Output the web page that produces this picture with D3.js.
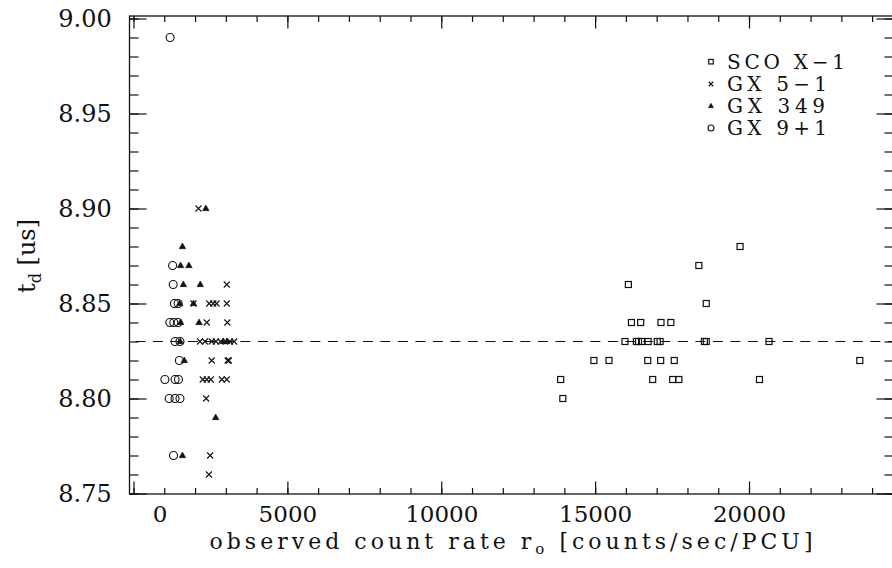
<!DOCTYPE html>
<html><head><meta charset="utf-8">
<script src="https://cdn.jsdelivr.net/npm/d3@7"></script>
<style>
body{margin:0;background:#fff}
svg{display:block}
text{font-family:"DejaVu Serif",serif;fill:#111}
</style></head>
<body><svg id="c" width="892" height="568"></svg>
<script>
// ---- data (count rate [counts/sec/PCU], t_d [us]) ----
const scoX1 = [
  [19710,8.88],[18370,8.87],[16080,8.86],[18610,8.85],
  [16180,8.84],[16480,8.84],[17140,8.84],[17460,8.84],
  [15970,8.83],[16340,8.83],[16410,8.83],[16510,8.83],[16720,8.83],[17020,8.83],[17110,8.83],[18550,8.83],[18610,8.83],[20650,8.83],
  [14960,8.82],[15450,8.82],[16710,8.82],[17130,8.82],[17570,8.82],[23600,8.82],
  [13880,8.81],[16870,8.81],[17520,8.81],[17720,8.81],[20340,8.81],
  [13950,8.80]
];
const gx51 = [
  [2110,8.90],[3030,8.86],
  [1950,8.85],[2460,8.85],[2590,8.85],[2700,8.85],[3030,8.85],
  [2380,8.84],[3050,8.84],
  [2160,8.83],[2320,8.83],[2540,8.83],[2680,8.83],[2830,8.83],[3140,8.83],[3270,8.83],
  [2540,8.82],[3060,8.82],[3100,8.82],
  [2250,8.81],[2380,8.81],[2510,8.81],[2870,8.81],[3030,8.81],
  [2360,8.80],[2490,8.77],[2450,8.76]
];
const gx349 = [
  [2350,8.90],[1590,8.88],[1530,8.87],[1800,8.87],
  [1620,8.86],[2170,8.86],[1500,8.85],[1950,8.85],
  [1530,8.84],[2130,8.84],[1520,8.83],[2920,8.83],[3030,8.83],
  [1650,8.82],[2670,8.79],[1590,8.77]
];
const gx91 = [
  [1190,8.99],[1270,8.87],[1290,8.86],[1330,8.85],[1450,8.85],
  [1180,8.84],[1310,8.84],[1450,8.84],[1350,8.83],[1510,8.83],
  [1490,8.82],[1020,8.81],[1350,8.81],[1460,8.81],
  [1160,8.80],[1350,8.80],[1510,8.80],[1300,8.77]
];
const legendNames = ["SCO X\u22121","GX 5\u22121","GX 349","GX 9+1"];
const xMajorTicks = [0,5000,10000,15000,20000];
const xMinorTicks = d3.range(0,25000,1000);
const yMajorTicks = [8.75,8.80,8.85,8.90,8.95,9.00];
const yMinorTicks = d3.range(8.75,9.0001,0.01).map(v=>+v.toFixed(2));
const refLine = 8.83;
const xTitle = "observed count rate r";
const xTitleSub = "o";
const xTitleTail = " [counts/sec/PCU]";

// ---- layout ----
const L=129.5, R=893.5, T=16, B=494;
const svg = d3.select("#c");
const x = d3.scaleLinear().domain([-130,24695]).range([L,R]);
const y = d3.scaleLinear().domain([8.75,9.0]).range([493.5,18.5]);
const ink="#111";

// frame
svg.append("rect").attr("x",L).attr("y",T).attr("width",R-L).attr("height",B-T)
  .attr("fill","none").attr("stroke",ink).attr("stroke-width",1.3);

function styleAxis(g){ g.select(".domain").remove(); g.selectAll("line").attr("stroke",ink).attr("stroke-width",1.2); }

// bottom
svg.append("g").attr("transform",`translate(0,${B})`)
  .call(d3.axisBottom(x).tickValues(xMinorTicks).tickSize(-6).tickFormat("")).call(styleAxis);
const bx = svg.append("g").attr("transform",`translate(0,${B})`)
  .call(d3.axisBottom(x).tickValues(xMajorTicks).tickSize(-12.5).tickPadding(11.5).tickFormat(d3.format("d"))).call(styleAxis);
bx.selectAll("text").attr("font-size",23).attr("font-family","DejaVu Serif").attr("fill",ink);
bx.selectAll(".tick").filter(d=>d===0).select("text").attr("x",26);
// top
svg.append("g").attr("transform",`translate(0,${T})`)
  .call(d3.axisTop(x).tickValues(xMinorTicks).tickSize(-6).tickFormat("")).call(styleAxis);
svg.append("g").attr("transform",`translate(0,${T})`)
  .call(d3.axisTop(x).tickValues(xMajorTicks).tickSize(-12.5).tickFormat("")).call(styleAxis);
// left
svg.append("g").attr("transform",`translate(${L},0)`)
  .call(d3.axisLeft(y).tickValues(yMinorTicks).tickSize(-9).tickFormat("")).call(styleAxis);
const ly = svg.append("g").attr("transform",`translate(${L},0)`)
  .call(d3.axisLeft(y).tickValues(yMajorTicks).tickSize(-17).tickPadding(17.8).tickFormat(d3.format(".2f"))).call(styleAxis);
ly.selectAll("text").attr("font-size",24).attr("font-family","DejaVu Serif").attr("fill",ink);
// right
svg.append("g").attr("transform",`translate(${R},0)`)
  .call(d3.axisRight(y).tickValues(yMinorTicks).tickSize(-9).tickFormat("")).call(styleAxis);
svg.append("g").attr("transform",`translate(${R},0)`)
  .call(d3.axisRight(y).tickValues(yMajorTicks).tickSize(-17).tickFormat("")).call(styleAxis);

// reference dashed line
svg.append("line").attr("x1",L).attr("x2",R).attr("y1",y(refLine)).attr("y2",y(refLine))
  .attr("stroke",ink).attr("stroke-width",1.1).attr("stroke-dasharray","10,7.5").attr("stroke-dashoffset",11.6);

// marker painters
function square(g,cx,cy,s){ g.append("rect").attr("x",cx-s/2).attr("y",cy-s/2).attr("width",s).attr("height",s)
  .attr("fill","none").attr("stroke",ink).attr("stroke-width",1.2); }
function cross(g,cx,cy,s){ const h=s/2; g.append("path").attr("d",`M${cx-h},${cy-h}L${cx+h},${cy+h}M${cx-h},${cy+h}L${cx+h},${cy-h}`)
  .attr("stroke",ink).attr("stroke-width",1.1).attr("fill","none"); }
function tri(g,cx,cy,s){ const h=s*0.87; g.append("path").attr("d",`M${cx},${cy-h*0.62}L${cx+s/2},${cy+h*0.38}L${cx-s/2},${cy+h*0.38}Z`)
  .attr("fill",ink).attr("stroke",ink).attr("stroke-width",0.6); }
function circ(g,cx,cy,r){ g.append("circle").attr("cx",cx).attr("cy",cy).attr("r",r)
  .attr("fill","none").attr("stroke",ink).attr("stroke-width",1.1); }

const pts = svg.append("g");
scoX1.forEach(d=>square(pts,x(d[0]),y(d[1]),6));
gx51.forEach(d=>cross(pts,x(d[0]),y(d[1]),6));
gx349.forEach(d=>tri(pts,x(d[0]),y(d[1]),6.5));
gx91.forEach(d=>circ(pts,x(d[0]),y(d[1]),4));

// legend
const lg = svg.append("g");
const rows=[61.7,84,106,128], mx=711, tx=727;
const painters=[(g,a,b)=>square(g,a,b,4.5),(g,a,b)=>cross(g,a,b,4.5),(g,a,b)=>tri(g,a,b,5),(g,a,b)=>circ(g,a,b,3)];
const widths=[118,100,98,100];
legendNames.forEach((n,i)=>{
  painters[i](lg,mx,rows[i]);
  lg.append("text").attr("x",tx).attr("y",rows[i]+7.4).attr("font-size",20)
    .attr("textLength",widths[i]).attr("lengthAdjust","spacing").text(n);
});

// axis titles
const xt = svg.append("text").attr("x",511).attr("y",549).attr("text-anchor","middle").attr("font-size",22)
  .attr("textLength",603).attr("lengthAdjust","spacing");
xt.append("tspan").text(xTitle);
xt.append("tspan").attr("font-size",15).attr("dy",5).text(xTitleSub);
xt.append("tspan").attr("dy",-5).text(xTitleTail);

const yt = svg.append("text").attr("transform","translate(35,256) rotate(-90)").attr("text-anchor","middle").attr("font-size",24);
yt.append("tspan").text("t");
yt.append("tspan").attr("font-size",16).attr("dy",6).text("d");
yt.append("tspan").attr("dy",-6).text(" [us]");
</script></body></html>
